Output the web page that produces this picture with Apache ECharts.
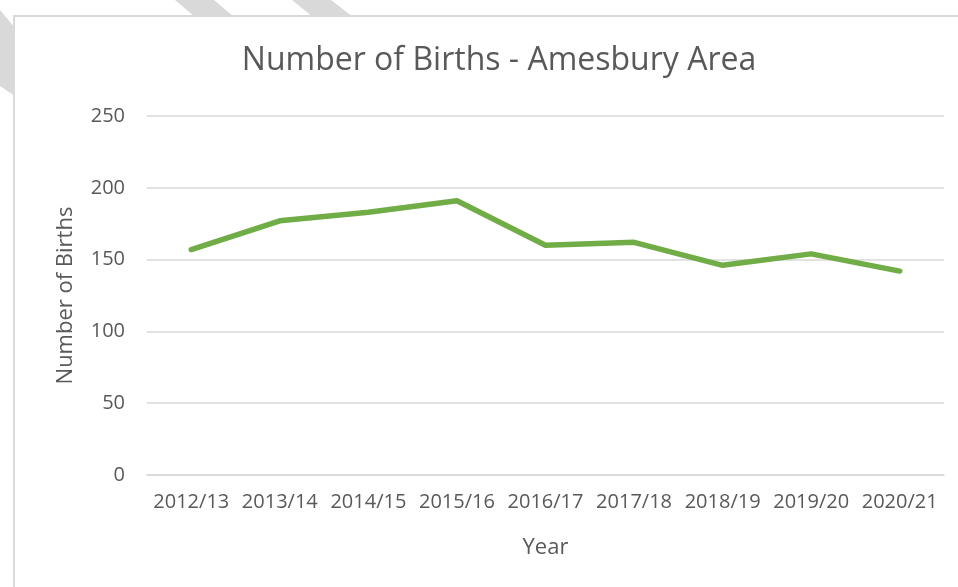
<!DOCTYPE html>
<html><head><meta charset="utf-8">
<script src="https://cdn.jsdelivr.net/npm/echarts@6/dist/echarts.min.js"></script>
<style>html,body{margin:0;padding:0;background:#fff}#c{width:958px;height:587px}</style>
</head><body><div id="c"></div>
<script>
const categories = ['2012/13','2013/14','2014/15','2015/16','2016/17','2017/18','2018/19','2019/20','2020/21'];
const births = [157, 177, 183, 191, 160, 162, 146, 154, 142];
const yTicks = [0, 50, 100, 150, 200, 250];

const chart = echarts.init(document.getElementById('c'));
const txt = '#595959';
const font = 'Open Sans';
chart.setOption({
  backgroundColor: '#fff',
  animation: false,
  graphic: [
    {type:'polygon', z:-5, shape:{points:[[175,0],[214,0],[234,17],[195,17]]}, style:{fill:'#d9d9d9'}},
    {type:'polygon', z:-5, shape:{points:[[292,0],[331,0],[353,17],[313,17]]}, style:{fill:'#d9d9d9'}},
    {type:'polygon', z:-5, shape:{points:[[0,10],[15,28],[15,96],[0,86]]}, style:{fill:'#d9d9d9'}},
    {type:'rect', z:-4, shape:{x:14,y:16,width:960,height:600}, style:{fill:'#fff', stroke:'#d9d9d9', lineWidth:2}}
  ],
  title: {
    text: 'Number of Births - Amesbury Area',
    left: 494, top: 40, textAlign: 'center',
    textStyle: {color: txt, fontFamily: font, fontSize: 32, fontWeight: 'normal'}
  },
  grid: {left: 147, right: 14, top: 116, bottom: 112},
  xAxis: {
    type: 'category', data: categories, boundaryGap: true,
    name: 'Year', nameLocation: 'middle', nameGap: 62,
    nameTextStyle: {color: txt, fontFamily: font, fontSize: 22},
    axisLine: {show: true, lineStyle: {color: '#d9d9d9', width: 1.5}},
    axisTick: {show: false},
    axisLabel: {color: txt, fontFamily: font, fontSize: 20, margin: 17, interval: 0}
  },
  yAxis: {
    type: 'value', min: 0, max: 250, interval: 50,
    name: 'Number of Births', nameLocation: 'middle', nameGap: 70, nameRotate: 90,
    nameTextStyle: {color: txt, fontFamily: font, fontSize: 22},
    axisLine: {show: false}, axisTick: {show: false},
    axisLabel: {color: txt, fontFamily: font, fontSize: 20, margin: 22,
      formatter: v => yTicks.includes(v) ? String(v) : ''},
    splitLine: {lineStyle: {color: '#d9d9d9', width: 1.5}}
  },
  series: [{
    type: 'line', data: births, symbol: 'none',
    lineStyle: {color: '#70AD47', width: 5.5, cap: 'round', join: 'round'}
  }]
});
</script></body></html>
